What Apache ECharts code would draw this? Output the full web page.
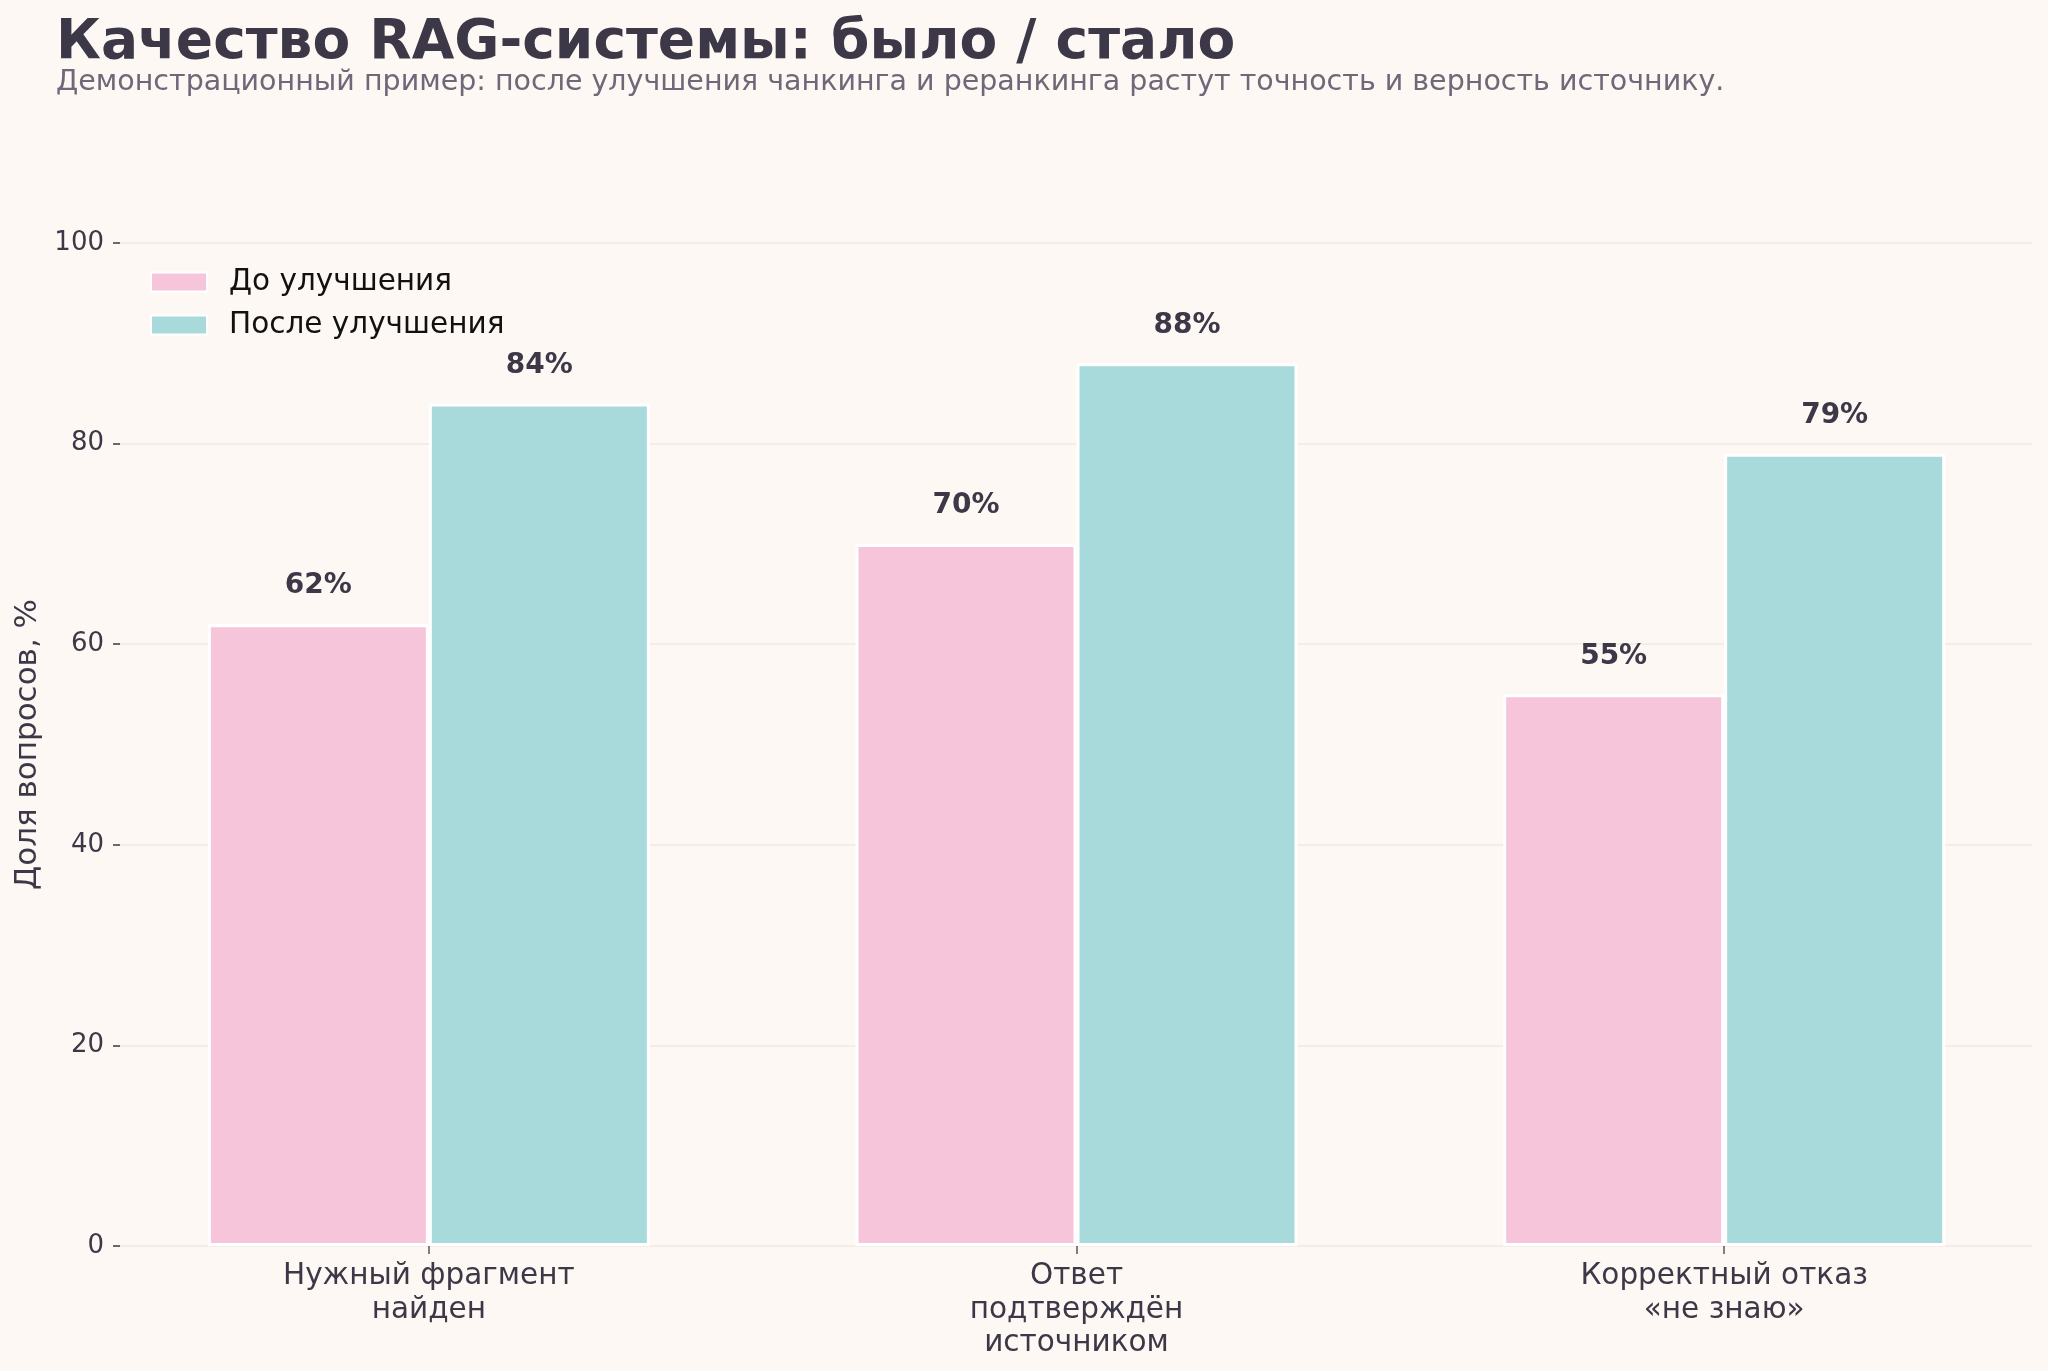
<!DOCTYPE html>
<html>
<head>
<meta charset="utf-8">
<title>Качество RAG-системы</title>
<script src="https://cdn.jsdelivr.net/npm/echarts@6/dist/echarts.min.js"></script>
<style>
  html, body { margin: 0; padding: 0; background: #fdf8f3; }
  #main { width: 2048px; height: 1371px; }
</style>
</head>
<body>
<div id="main"></div>
<script>
// данные
var categories = ['Нужный фрагмент\nнайден', 'Ответ\nподтверждён\nисточником', 'Корректный отказ\n«не знаю»'];
var seriesNames = ['До улучшения', 'После улучшения'];
var beforeValues = [62, 70, 55];
var afterValues = [84, 88, 79];
var yMin = 0, yMax = 100, yStep = 20;

var FONT = 'DejaVu Sans';
var DARK = '#3d3848';

var myChart = echarts.init(document.getElementById('main'));

var barLabel = {
    show: true,
    position: 'top',
    distance: 24,
    formatter: '{c}%',
    color: DARK,
    fontFamily: FONT,
    fontWeight: 'bold',
    fontSize: 28
};

var option = {
    backgroundColor: '#fdf8f3',
    animation: false,
    title: [{
        text: 'Качество RAG-системы: было / стало',
        left: 56,
        top: 16,
        padding: 0,
        textStyle: { color: DARK, fontFamily: FONT, fontWeight: 'bold', fontSize: 55 }
    }, {
        text: 'Демонстрационный пример: после улучшения чанкинга и реранкинга растут точность и верность источнику.',
        left: 56,
        top: 68,
        padding: 0,
        textStyle: { color: '#6e6878', fontFamily: FONT, fontWeight: 'normal', fontSize: 28.5 }
    }],
    legend: {
        data: seriesNames,
        orient: 'vertical',
        left: 150,
        top: 267,
        padding: 0,
        itemWidth: 56,
        itemHeight: 19,
        itemGap: 13,
        icon: 'rect',
        textStyle: { color: '#111', fontFamily: FONT, fontSize: 29.5, lineHeight: 30, padding: [0, 0, 0, 17] }
    },
    // две сетки: одна для осей и линий, вторая для столбцов
    grid: [
        { left: 120, right: 16, top: 243, bottom: 125 },
        { left: 105, width: 1945, top: 243, bottom: 125 }
    ],
    xAxis: [{
        gridIndex: 0,
        type: 'category',
        data: categories,
        show: false
    }, {
        gridIndex: 1,
        type: 'category',
        data: categories,
        axisLine: { show: false },
        axisTick: { show: true, alignWithLabel: true, length: 8, lineStyle: { color: '#5a5466', width: 1.5 } },
        axisLabel: { color: DARK, fontFamily: FONT, fontSize: 29.5, lineHeight: 33.5, margin: 14 }
    }],
    yAxis: [{
        gridIndex: 0,
        type: 'value',
        min: yMin,
        max: yMax,
        interval: yStep,
        name: 'Доля вопросов, %',
        nameLocation: 'middle',
        nameGap: 66,
        nameTextStyle: { color: DARK, fontFamily: FONT, fontSize: 31 },
        axisLine: { show: false },
        axisTick: { show: true, length: 7, lineStyle: { color: DARK, width: 1.5 } },
        axisLabel: { color: DARK, fontFamily: FONT, fontSize: 26, margin: 16 },
        splitLine: { show: true, lineStyle: { color: '#efe9e5', width: 1.5 } }
    }, {
        gridIndex: 1,
        type: 'value',
        min: yMin,
        max: yMax,
        interval: yStep,
        show: false,
        splitLine: { show: false }
    }],
    series: [{
        name: seriesNames[0],
        type: 'bar',
        xAxisIndex: 1,
        yAxisIndex: 1,
        data: beforeValues,
        barWidth: 221,
        barGap: '0%',
        itemStyle: { color: '#f7c5d9', borderColor: '#ffffff', borderWidth: 3 },
        label: barLabel
    }, {
        name: seriesNames[1],
        type: 'bar',
        xAxisIndex: 1,
        yAxisIndex: 1,
        data: afterValues,
        barWidth: 221,
        barGap: '0%',
        itemStyle: { color: '#a9dadb', borderColor: '#ffffff', borderWidth: 3 },
        label: barLabel
    }]
};

myChart.setOption(option);
</script>
</body>
</html>
